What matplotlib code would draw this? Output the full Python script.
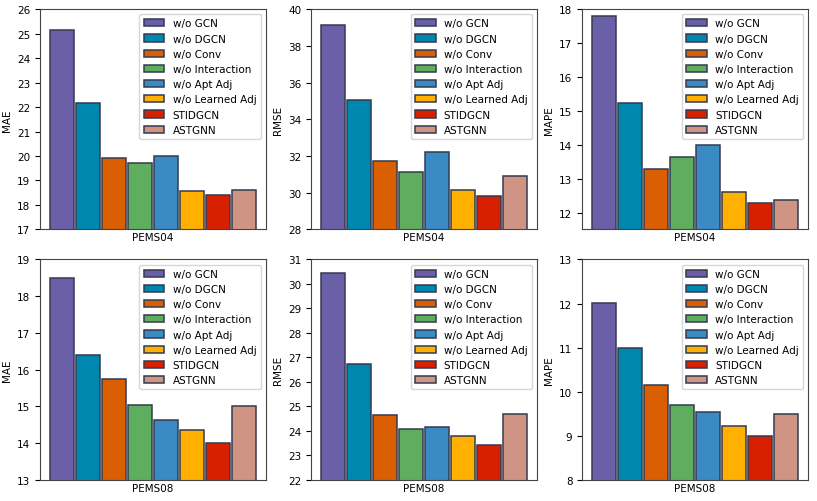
import numpy as np
from matplotlib import pyplot as plt

models = ["w/o GCN", "w/o DGCN", "w/o Conv", "w/o Interaction",
          "w/o Apt Adj", "w/o Learned Adj", "STIDGCN", "ASTGNN"]
colors = ["#6b60a8", "#0087b0", "#d95f02", "#5fae5f",
          "#3a8ac3", "#ffb000", "#d62000", "#d09484"]

# PEMS04
mae04 = [25.15, 22.15, 19.90, 19.72, 20.00, 18.58, 18.42, 18.60]
rmse04 = [39.15, 35.05, 31.75, 31.15, 32.20, 30.17, 29.82, 30.92]
mape04 = [17.80, 15.22, 13.27, 13.63, 13.98, 12.62, 12.27, 12.37]
# PEMS08
mae08 = [18.50, 16.40, 15.75, 15.05, 14.63, 14.35, 14.00, 15.00]
rmse08 = [30.43, 26.75, 24.65, 24.07, 24.15, 23.80, 23.42, 24.70]
mape08 = [12.02, 10.99, 10.15, 9.70, 9.53, 9.23, 9.00, 9.50]

panels = [
    ("PEMS04", "MAE", mae04, (17, 26)),
    ("PEMS04", "RMSE", rmse04, (28, 40)),
    ("PEMS04", "MAPE", mape04, (11.5, 18)),
    ("PEMS08", "MAE", mae08, (13, 19)),
    ("PEMS08", "RMSE", rmse08, (22, 31)),
    ("PEMS08", "MAPE", mape08, (8, 13)),
]

plt.rcParams['font.size'] = 7.5

fig, axes = plt.subplots(2, 3, figsize=(8.17, 5.02), dpi=100)
fig.subplots_adjust(left=0.049, right=0.989, top=0.980, bottom=0.042,
                    wspace=0.2, hspace=0.136)

x = np.arange(len(models))
for ax, (dataset, metric, vals, ylim) in zip(axes.flat, panels):
    for i in range(len(models)):
        ax.bar(x[i], vals[i], width=0.92, color=colors[i], edgecolor="#333b50",
               linewidth=1.1, label=models[i])
    ax.set_ylim(ylim)
    ax.set_xticks([])
    ax.set_xlabel(dataset, labelpad=2)
    ax.set_ylabel(metric)
    ax.legend(loc="upper right", fontsize=7.5)
    for s in ax.spines.values():
        s.set_color("#444444")

plt.savefig("out.png", dpi=100)
